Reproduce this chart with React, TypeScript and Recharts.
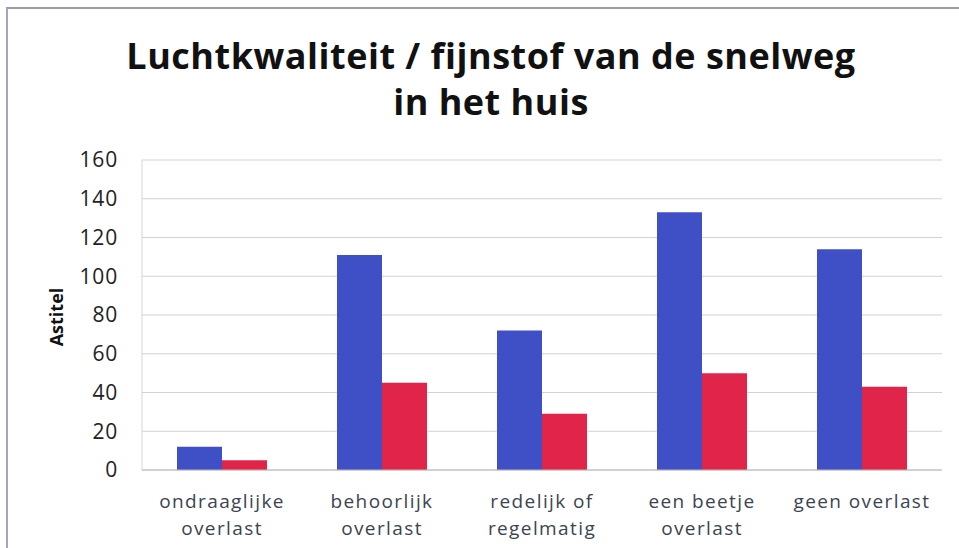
import React from 'react';
import { BarChart, Bar, XAxis, YAxis, CartesianGrid } from 'recharts';

const categories = [
  'ondraaglijke\noverlast',
  'behoorlijk\noverlast',
  'redelijk of\nregelmatig',
  'een beetje\noverlast',
  'geen overlast',
];
const blueValues = [12, 111, 72, 133, 114];
const redValues = [5, 45, 29, 50, 43];
const yTicks = [0, 20, 40, 60, 80, 100, 120, 140, 160];

const data = categories.map((name, i) => ({
  name,
  blue: blueValues[i],
  red: redValues[i],
}));

const FONT = '"Open Sans", Lato, sans-serif';

const CategoryTick = (props: any) => {
  const { x, y, payload } = props;
  const lines = String(payload.value).split('\n');
  return (
    <text x={x} y={y} textAnchor="middle" fill="#3c4450" fontSize={19} fontFamily={FONT} letterSpacing={1.4}>
      {lines.map((line, i) => (
        <tspan key={i} x={x} dy={i === 0 ? 38 : 27}>
          {line}
        </tspan>
      ))}
    </text>
  );
};

export default function App() {
  return (
    <div style={{ position: 'absolute', left: 0, top: 0, width: 959, height: 548, background: '#fff', overflow: 'hidden' }}>
      <div
        style={{
          position: 'absolute',
          left: 6,
          top: 7,
          width: 970,
          height: 560,
          borderLeft: '2px solid #a8a4c0',
          borderTop: '2px solid #9a9aa8',
        }}
      />
      <div
        style={{
          position: 'absolute',
          left: 0,
          top: 33,
          width: 982,
          textAlign: 'center',
          fontFamily: FONT,
          fontWeight: 700,
          fontSize: 36,
          lineHeight: '46px',
          letterSpacing: 0.5,
          color: '#111',
        }}
      >
        Luchtkwaliteit / fijnstof van de snelweg
        <br />
        in het huis
      </div>
      <div
        style={{
          position: 'absolute',
          left: 56,
          top: 317,
          transform: 'translate(-50%, -50%) rotate(-90deg)',
          fontFamily: FONT,
          fontWeight: 700,
          fontSize: 18,
          color: '#111',
          whiteSpace: 'nowrap',
        }}
      >
        Astitel
      </div>
      <div style={{ position: 'absolute', left: 0, top: 0 }}>
        <BarChart
          width={959}
          height={548}
          data={data}
          margin={{ top: 160, right: 17, left: 0, bottom: 0 }}
          barGap={0}
          barSize={45}
        >
          <CartesianGrid vertical={false} stroke="#d2d2d2" />
          <XAxis
            dataKey="name"
            height={78}
            tickLine={false}
            tickSize={0}
            tickMargin={0}
            axisLine={{ stroke: '#b8b8b8' }}
            tick={<CategoryTick />}
            interval={0}
          />
          <YAxis
            width={142}
            domain={[0, 160]}
            ticks={yTicks}
            tickLine={false}
            tickSize={0}
            tickMargin={24}
            axisLine={{ stroke: '#cfd6e0' }}
            tick={{ fill: '#222', fontSize: 21, fontFamily: FONT, letterSpacing: 0.8 }}
          />
          <Bar dataKey="blue" fill="#3f50c6" isAnimationActive={false} />
          <Bar dataKey="red" fill="#e1244a" isAnimationActive={false} />
        </BarChart>
      </div>
    </div>
  );
}
